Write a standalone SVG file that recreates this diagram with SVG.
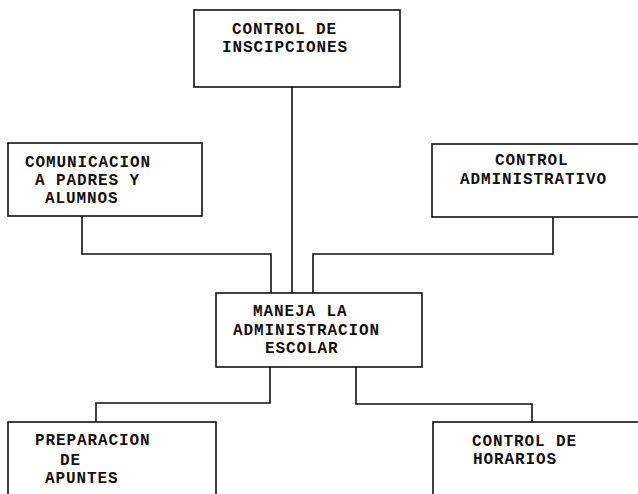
<svg xmlns="http://www.w3.org/2000/svg" width="638" height="494" viewBox="0 0 638 494">
<style>
.box{fill:none;stroke:#111;stroke-width:1.6}
.ln{fill:none;stroke:#111;stroke-width:1.6}
text{font-family:"Liberation Mono","Courier New",monospace;font-size:16px;font-weight:bold;letter-spacing:0.9px;fill:#111}
</style>
<rect width="638" height="494" fill="#fff"/>
<g id="connectors">
<path class="ln" d="M292,87 V293"/>
<path class="ln" d="M82,216 V254 H271 V293"/>
<path class="ln" d="M553,217 V254 H313 V293"/>
<path class="ln" d="M270,367 V403 H96 V422"/>
<path class="ln" d="M356,367 V404 H532 V422"/>
</g>
<g id="n_inscripciones">
<rect class="box" x="194" y="10" width="206" height="77"/>
<text x="232" y="34">CONTROL DE</text>
<text x="222" y="52">INSCIPCIONES</text>
</g>
<g id="n_comunicacion">
<rect class="box" x="8" y="143" width="194" height="73"/>
<text x="25" y="167">COMUNICACION</text>
<text x="35" y="185">A PADRES Y</text>
<text x="45" y="203">ALUMNOS</text>
</g>
<g id="n_administrativo">
<rect class="box" x="432" y="144" width="220" height="73"/>
<text x="495" y="165">CONTROL</text>
<text x="460" y="184">ADMINISTRATIVO</text>
</g>
<g id="n_maneja">
<rect class="box" x="216" y="293" width="206" height="74"/>
<text x="253" y="316">MANEJA LA</text>
<text x="233" y="335">ADMINISTRACION</text>
<text x="265" y="353">ESCOLAR</text>
</g>
<g id="n_apuntes">
<rect class="box" x="8" y="422" width="208" height="90"/>
<text x="35" y="445">PREPARACION</text>
<text x="60" y="465">DE</text>
<text x="45" y="483">APUNTES</text>
</g>
<g id="n_horarios">
<rect class="box" x="433" y="422" width="220" height="90"/>
<text x="472" y="446">CONTROL DE</text>
<text x="473" y="464">HORARIOS</text>
</g>
</svg>
